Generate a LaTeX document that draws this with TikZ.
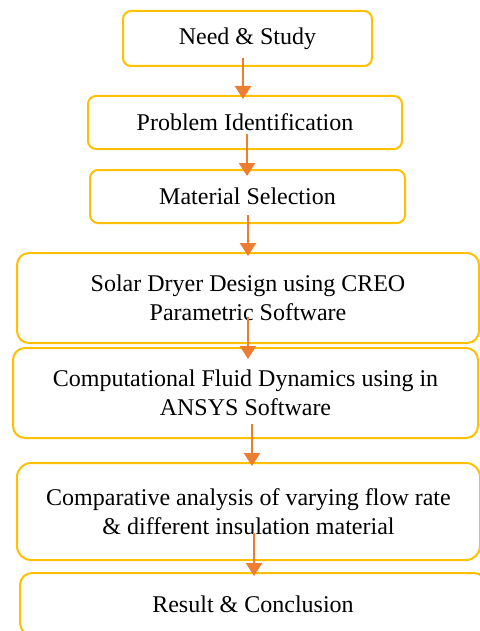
\documentclass[tikz,border=0pt]{standalone}
\usepackage{fontspec}
\setmainfont{Liberation Serif}
\usepackage{tikz}
\usetikzlibrary{arrows.meta}
\definecolor{boxgold}{HTML}{FFC000}
\definecolor{flowor}{HTML}{ED7D31}
\begin{document}
\begin{tikzpicture}[box/.style={draw=boxgold,line width=1pt,rounded corners=4pt,align=center,
      font=\fontsize{12pt}{14.5pt}\selectfont},
    flow/.style={draw=flowor,line width=1.2pt,-{Triangle[width=8pt,length=6.5pt]}}]

      \useasboundingbox (0,0) rectangle (240pt,-315.5pt);

      \node[box,minimum width=124.5pt,minimum height=27.5pt] (need) at (123.75pt,-19.25pt) {Need \& Study};
      \node[box,minimum width=157pt,minimum height=26.5pt,node distance=42pt,xshift=-1.25pt] (prob) [below of=need] {Problem Identification};
      \node[box,minimum width=157.5pt,minimum height=26.5pt,node distance=37pt,xshift=1.25pt] (mat) [below of=prob] {Material Selection};
      \node[box,minimum width=231pt,minimum height=45pt,rounded corners=6pt,node distance=50.75pt,xshift=.25pt] (solar) [below of=mat]
        {Solar Dryer Design using CREO\\Parametric Software};
      \node[box,minimum width=232.5pt,minimum height=45pt,rounded corners=6pt,node distance=47.5pt,xshift=-1.25pt] (cfd) [below of=solar]
        {Computational Fluid Dynamics using in\\ANSYS Software};
      \node[box,minimum width=231.5pt,minimum height=48.5pt,rounded corners=7pt,node distance=59.25pt,xshift=1.5pt] (comp) [below of=cfd]
        {Comparative analysis of varying flow rate\\\& different insulation material};
      \node[box,minimum width=233pt,minimum height=31pt,rounded corners=6pt,node distance=46.25pt,xshift=2.25pt] (res) [below of=comp] {Result \& Conclusion};

      % arrows start inside the box above
      \draw[flow] ([xshift=-2.25pt,yshift=4.5pt]need.south) -- ([xshift=-1pt,yshift=-2pt]prob.north);
      \draw[flow] ([xshift=1pt,yshift=8pt]prob.south) -- ([xshift=-.25pt,yshift=-3.5pt]mat.north);
      \draw[flow] ([xshift=.25pt,yshift=4.5pt]mat.south) -- ([yshift=-2pt]solar.north);
      \draw[flow] ([yshift=13.5pt]solar.south) -- ([xshift=1.25pt,yshift=-6pt]cfd.north);
      \draw[flow] ([xshift=3.25pt,yshift=7.5pt]cfd.south) -- ([xshift=1.75pt,yshift=-2pt]comp.north);
      \draw[flow] ([xshift=2.75pt,yshift=14pt]comp.south) -- ([xshift=.5pt,yshift=-2pt]res.north);
    \end{tikzpicture}
\end{document}
